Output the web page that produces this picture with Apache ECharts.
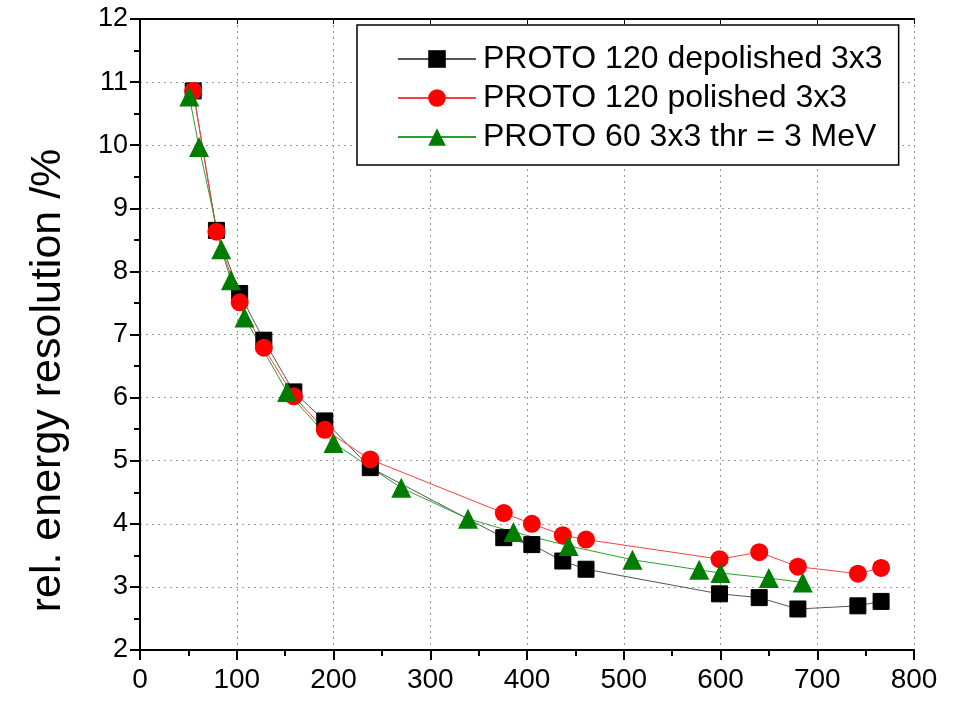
<!DOCTYPE html>
<html>
<head>
<meta charset="utf-8">
<script src="https://cdn.jsdelivr.net/npm/echarts@6/dist/echarts.min.js"></script>
<style>html,body{margin:0;padding:0;background:#fff;}#c{width:954px;height:701px;}</style>
</head>
<body>
<div id="c"></div>
<script>
const seriesNames = ['PROTO 120 depolished 3x3', 'PROTO 120 polished 3x3', 'PROTO 60 3x3 thr = 3 MeV'];
const depolishedX = [55, 79, 103, 128, 159, 191, 238, 376, 405, 437, 461, 599, 640, 680, 742, 766];
const depolishedY = [10.86, 8.65, 7.65, 6.91, 6.09, 5.63, 4.89, 3.78, 3.67, 3.41, 3.28, 2.89, 2.83, 2.65, 2.70, 2.77];
const polishedX = [55, 79, 103, 128, 159, 191, 238, 376, 405, 437, 461, 599, 640, 680, 742, 766];
const polishedY = [10.86, 8.63, 7.51, 6.79, 6.02, 5.49, 5.02, 4.17, 4.00, 3.82, 3.75, 3.44, 3.55, 3.32, 3.21, 3.30];
const proto60X = [51, 61, 84, 94, 108, 152, 200, 270, 339, 386, 443, 509, 578, 600, 650, 685];
const proto60Y = [10.77, 9.97, 8.35, 7.86, 7.27, 6.09, 5.28, 4.57, 4.08, 3.87, 3.65, 3.43, 3.27, 3.22, 3.14, 3.07];
const yAxisName = 'rel. energy resolution /%';

const pair = (xs, ys) => xs.map((x, i) => [x, ys[i]]);
const FONT = "'Liberation Sans', Arial, sans-serif";

const chart = echarts.init(document.getElementById('c'), null, {renderer: 'canvas'});
const frameAxis = {
  axisLine: {show: true, lineStyle: {color: '#000', width: 2}},
  axisTick: {show: true, inside: true, length: 5, lineStyle: {color: '#000', width: 1}},
  axisLabel: {show: false},
  splitLine: {show: false}
};
chart.setOption({
  animation: false,
  backgroundColor: '#fff',
  grid: {left: 140, right: 40, top: 19, bottom: 51},
  legend: {
    orient: 'vertical',
    left: 357,
    top: 25,
    padding: [18, 16, 12, 40],
    itemGap: 7,
    itemWidth: 78,
    itemHeight: 22,
    borderColor: '#000',
    borderWidth: 1.5,
    backgroundColor: '#fff',
    textStyle: {fontFamily: FONT, fontSize: 32, color: '#000', padding: [0, 0, 0, 2]},
    data: seriesNames
  },
  xAxis: [{
    type: 'value', min: 0, max: 800, interval: 100,
    axisLine: {show: true, onZero: false, lineStyle: {color: '#000', width: 2}},
    axisTick: {show: true, length: 10, lineStyle: {color: '#000', width: 2}},
    minorTick: {show: true, splitNumber: 2, length: 6, lineStyle: {color: '#000', width: 2}},
    axisLabel: {fontFamily: "'Liberation Sans Narrow', 'Liberation Sans', Arial, sans-serif", fontSize: 28, color: '#000', margin: 16},
    splitLine: {show: true, lineStyle: {color: '#999', type: [2, 4], width: 1}}
  }, Object.assign({type: 'value', min: 0, max: 800, interval: 100, position: 'top'}, frameAxis)],
  yAxis: [{
    type: 'value', min: 2, max: 12, interval: 1,
    name: yAxisName, nameLocation: 'middle', nameGap: 70,
    nameTextStyle: {fontFamily: FONT, fontSize: 43, color: '#000', padding: [0, 92, 0, 0]},
    axisLine: {show: true, onZero: false, lineStyle: {color: '#000', width: 2}},
    axisTick: {show: true, length: 10, lineStyle: {color: '#000', width: 2}},
    minorTick: {show: true, splitNumber: 2, length: 6, lineStyle: {color: '#000', width: 2}},
    axisLabel: {fontFamily: FONT, fontSize: 27, color: '#000', margin: 12},
    splitLine: {show: true, lineStyle: {color: '#999', type: [2, 4], width: 1}}
  }, Object.assign({type: 'value', min: 2, max: 12, interval: 1, position: 'right'}, frameAxis)],
  series: [
    {
      name: seriesNames[0], type: 'line', data: pair(depolishedX, depolishedY),
      symbol: 'rect', symbolSize: 16,
      itemStyle: {color: '#000', borderColor: '#000'},
      lineStyle: {color: '#555', width: 1}
    },
    {
      name: seriesNames[1], type: 'line', data: pair(polishedX, polishedY),
      symbol: 'circle', symbolSize: 18,
      itemStyle: {color: '#ff0000'},
      lineStyle: {color: '#ff4040', width: 1}
    },
    {
      name: seriesNames[2], type: 'line', data: pair(proto60X, proto60Y),
      symbol: 'triangle', symbolSize: 20,
      itemStyle: {color: '#007d00'},
      lineStyle: {color: '#2ca02c', width: 1}
    }
  ]
});
</script>
</body>
</html>
